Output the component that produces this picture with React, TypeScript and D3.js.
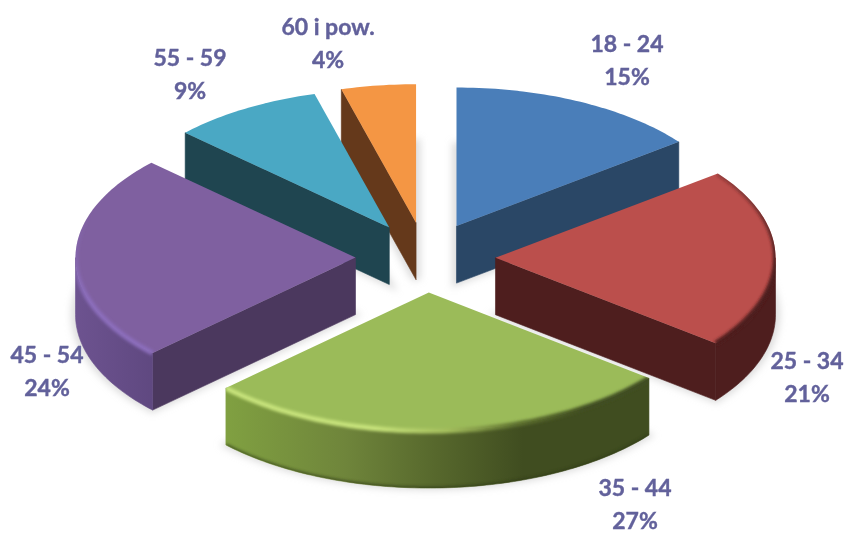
import React from "react";
import * as d3 from "d3";

const categories = ["18 - 24", "25 - 34", "35 - 44", "45 - 54", "55 - 59", "60 i pow."];
const shares = [14.6, 21, 27.3, 24.1, 8.7, 4.3];
const topColors = ["#4a7eb9", "#bb4f4c", "#9bbb59", "#7f60a0", "#4aa8c4", "#f49644"];
const wallColors = ["#2a4766", "#4e1e1e", "#404d20", "#4b385e", "#1f4550", "#65391b"];

const W = 848, H = 534;
const CX = 425.5, CY = 257.5, RX = 280, TILT = 0.495, DEPTH = 57, EXPLODE = 70;
const labelPos = [[627, 52], [807, 369], [635, 496], [47, 363], [190, 66], [328, 35]];
const paintOrder = [5, 4, 0, 3, 1, 2];

const pieGen = d3.pie<number>().sort(null).startAngle(0).endAngle(2 * Math.PI);
const arcs = pieGen(shares);
const line = d3.line<[number, number]>();
const arcGen = d3.arc<any>().innerRadius(0).outerRadius(RX);

function sampleAngles(a0: number, a1: number) {
  const n = Math.max(2, Math.ceil((a1 - a0) / 0.02));
  return d3.range(n + 1).map((i) => a0 + ((a1 - a0) * i) / n);
}

export default function App() {
  const slices = arcs.map((a, i) => {
    const mid = (a.startAngle + a.endAngle) / 2;
    const ox = CX + EXPLODE * Math.sin(mid);
    const oy = CY - EXPLODE * Math.cos(mid) * 0.5;
    const pt = (ang: number, r = RX, dz = 0): [number, number] => [
      ox + r * Math.sin(ang),
      oy - r * Math.cos(ang) * TILT + dz,
    ];
    const top = line([[ox, oy], ...sampleAngles(a.startAngle, a.endAngle).map((t) => pt(t))])! + "Z";
    const ground = `translate(${ox},${oy + DEPTH}) scale(1,${TILT})`;
    const wallA0 = Math.max(a.startAngle, Math.PI / 2);
    const wallA1 = Math.min(a.endAngle, (3 * Math.PI) / 2);
    const hasWall = wallA1 > wallA0;
    const wallAngles = hasWall ? sampleAngles(wallA0, wallA1) : [];
    const wall = hasWall
      ? line([...wallAngles.map((t) => pt(t)), ...wallAngles.slice().reverse().map((t) => pt(t, RX, DEPTH))])! + "Z"
      : "";
    const bottomEdge = hasWall ? line(wallAngles.map((t) => pt(t, RX, DEPTH)))! : "";
    const radial = (ang: number) =>
      line([[ox, oy], pt(ang), pt(ang, RX, DEPTH), [ox, oy + DEPTH]])! + "Z";
    const walls: string[] = [];
    if (Math.cos(a.startAngle - Math.PI / 2) < 0) walls.push(radial(a.startAngle));
    if (Math.cos(a.endAngle + Math.PI / 2) < 0) walls.push(radial(a.endAngle));
    const rim = line(sampleAngles(a.startAngle, a.endAngle).map((t) => pt(t)))!;
    return { i, a, top, ground, wall, walls, rim, bottomEdge };
  });

  return (
    <svg width={W} height={H} viewBox={`0 0 ${W} ${H}`} style={{ position: "absolute", left: 0, top: 0, background: "#fff" }}>
      <defs>
        <filter id="shadowBlur" x="-20%" y="-20%" width="140%" height="140%"><feGaussianBlur stdDeviation="3.5" /></filter>
        <filter id="rimBlur" x="-20%" y="-20%" width="140%" height="140%"><feGaussianBlur stdDeviation="1.6" /></filter>
        <linearGradient id="wall-2" gradientUnits="userSpaceOnUse" x1="227" x2="650" y1="0" y2="0">
          <stop offset="0" stopColor="#80a041" />
          <stop offset="0.28" stopColor="#6f853b" />
          <stop offset="0.5" stopColor="#56672c" />
          <stop offset="0.7" stopColor="#404d20" />
          <stop offset="1" stopColor="#404d20" />
        </linearGradient>
        <linearGradient id="wall-3" gradientUnits="userSpaceOnUse" x1="74" x2="155" y1="0" y2="0">
          <stop offset="0" stopColor="#6d5390" />
          <stop offset="1" stopColor="#5f4880" />
        </linearGradient>
        <linearGradient id="rim-2" gradientUnits="userSpaceOnUse" x1="227" x2="650" y1="0" y2="0">
          <stop offset="0" stopColor="#c6e27a" />
          <stop offset="0.35" stopColor="#c6e27a" />
          <stop offset="0.52" stopColor="#a3bd5c" />
          <stop offset="0.68" stopColor="#5f7230" />
          <stop offset="0.85" stopColor="#404d20" />
          <stop offset="1" stopColor="#404d20" />
        </linearGradient>
        <linearGradient id="rim-3" gradientUnits="userSpaceOnUse" x1="0" x2="0" y1="215" y2="300">
          <stop offset="0" stopColor="#8b6dbb" stopOpacity="0" />
          <stop offset="1" stopColor="#8b6dbb" />
        </linearGradient>
        <linearGradient id="rim-1" gradientUnits="userSpaceOnUse" x1="0" x2="0" y1="172" y2="260">
          <stop offset="0" stopColor="#4e1e1e" stopOpacity="0.35" />
          <stop offset="1" stopColor="#4e1e1e" />
        </linearGradient>
        {slices.map((s) => (
          <clipPath id={`clip-${s.i}`} key={s.i}>
            <path d={s.top} />
            {s.wall && <path d={s.wall} />}
          </clipPath>
        ))}
      </defs>

      <g filter="url(#shadowBlur)">
        {slices.map((s) => (
          <path
            key={s.i}
            transform={s.ground}
            d={arcGen(s.a) as string}
            fill="#c4c4c4"
            stroke="#c4c4c4"
            strokeWidth={9}
            opacity={0.55}
          />
        ))}
      </g>

      {paintOrder.map((idx) => {
        const s = slices[idx];
        const hasRim = idx >= 1 && idx <= 3;
        const wallFill = idx === 2 || idx === 3 ? `url(#wall-${idx})` : wallColors[idx];
        return (
          <g key={idx}>
            {s.walls.map((d, j) => (
              <path key={j} d={d} fill={wallColors[idx]} stroke={wallColors[idx]} strokeWidth={0.6} strokeLinejoin="round" />
            ))}
            {s.wall && <path d={s.wall} fill={wallFill} stroke={wallFill} strokeWidth={0.6} strokeLinejoin="round" />}
            <path d={s.top} fill={topColors[idx]} />
            <g clipPath={`url(#clip-${idx})`}>
              {hasRim && (
                <path d={s.rim} fill="none" stroke={`url(#rim-${idx})`} strokeWidth={5} filter="url(#rimBlur)" />
              )}
              {idx === 2 && (
                <path d={s.bottomEdge} fill="none" stroke="#2f3a14" strokeWidth={3} opacity={0.7} filter="url(#rimBlur)" />
              )}
            </g>
          </g>
        );
      })}

      <g fontFamily="Lato, sans-serif" fontWeight={700} fontSize={23} fill="#62619b" stroke="#62619b" strokeWidth={0.4} textAnchor="middle">
        {categories.map((c, i) => (
          <text key={c} x={labelPos[i][0]} y={labelPos[i][1]}>
            <tspan x={labelPos[i][0]}>{c}</tspan>
            <tspan x={labelPos[i][0]} dy={33}>{Math.round(shares[i])}%</tspan>
          </text>
        ))}
      </g>
    </svg>
  );
}
